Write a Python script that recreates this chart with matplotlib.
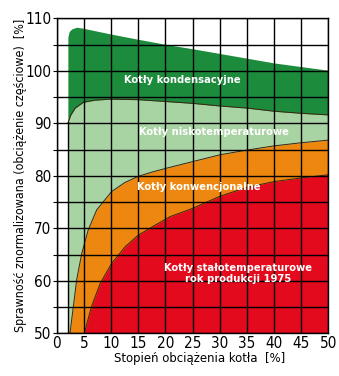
import numpy as np
import matplotlib
matplotlib.use('Agg')
import matplotlib.pyplot as plt
from matplotlib.ticker import MultipleLocator

plt.rcParams['font.family'] = ['DejaVu Sans']
plt.rcParams['font.stretch'] = 'condensed'

# ---------------------------------------------------------------------------
# Data (load % -> normalised efficiency %)
# ---------------------------------------------------------------------------
# top of the dark-green band (condensing boilers)
cond_x = [2.05, 2.05, 2.3, 2.8, 3.7, 4.9, 10.0, 15.0, 20.8, 25.0, 30.0, 35.0, 40.0, 45.0, 50.0]
cond_y = [90.0, 106.4, 107.5, 108.0, 108.3, 108.1, 107.0, 106.0, 104.9, 104.2, 103.3, 102.4, 101.5, 100.8, 100.1]

# top of the light-green band (low-temperature boilers)
low_x = [2.1, 2.6, 3.4, 4.9, 7.0, 9.8, 15.0, 20.8, 25.0, 30.0, 35.0, 40.0, 45.0, 50.0]
low_y = [90.2, 91.6, 92.9, 94.0, 94.4, 94.6, 94.5, 94.1, 93.8, 93.3, 92.9, 92.3, 91.9, 91.6]

# top of the orange band (conventional boilers)
conv_x = [2.44, 3.06, 3.67, 4.6, 5.8, 7.35, 10.1, 12.5, 15.0, 17.5, 20.0, 25.0, 30.0, 35.0, 40.0, 45.0, 50.0]
conv_y = [50.0, 55.1, 60.2, 65.2, 69.7, 73.5, 77.0, 78.7, 79.9, 80.7, 81.4, 82.7, 84.0, 84.9, 85.7, 86.3, 86.8]

# top of the red band (constant-temperature boilers, 1975)
const_x = [5.07, 6.4, 8.0, 10.1, 12.6, 15.0, 18.1, 20.8, 25.0, 30.0, 35.0, 40.0, 45.0, 50.0]
const_y = [50.0, 55.1, 59.5, 63.3, 66.5, 68.7, 70.6, 72.2, 73.8, 76.1, 77.8, 78.9, 79.6, 80.2]

bands = [
    (cond_x, cond_y, '#1d8b3c'),
    (low_x, low_y, '#a8d3a3'),
    (conv_x, conv_y, '#ee8710'),
    (const_x, const_y, '#e20a1c'),
]

# ---------------------------------------------------------------------------
# Figure
# ---------------------------------------------------------------------------
fig = plt.figure(figsize=(3.39, 3.76), dpi=100)
ax = fig.add_axes([0.1673, 0.1136, 0.8017, 0.8377])

for i, (bx, by, col) in enumerate(bands):
    ax.fill_between(bx, 50, by, color=col, linewidth=0, zorder=1 + i)
    if i > 0:
        ax.plot(bx, by, color='#3b2410', lw=0.7, zorder=1.5 + i)

# black left edge of the light-green band
ax.plot([low_x[0], low_x[0]], [50, low_y[0]], color='black', lw=1.0, zorder=6)

ax.set_xlim(0, 50)
ax.set_ylim(50, 110)
ax.xaxis.set_major_locator(MultipleLocator(5))
ax.yaxis.set_major_locator(MultipleLocator(10))
ax.yaxis.set_minor_locator(MultipleLocator(5))

for v in np.arange(0, 51, 5):
    ax.axvline(v, color='black', lw=1.0, zorder=7)
for v in np.arange(50, 111, 5):
    ax.axhline(v, color='black', lw=1.0, zorder=7)

for s in ax.spines.values():
    s.set_linewidth(1.0)
    s.set_zorder(8)

ax.tick_params(axis='x', length=0, labelsize=11, pad=2)
ax.tick_params(axis='y', which='both', length=3, width=0.8, labelsize=11, pad=1)

ax.set_xlabel('Stopień obciążenia kotła  [%]', fontsize=9.4)
ax.xaxis.set_label_coords(0.527, -0.058)
ax.set_ylabel('Sprawność znormalizowana (obciążenie częściowe)  [%]',
              fontsize=8.9)
ax.yaxis.set_label_coords(-0.108, 0.5)

txt = dict(color='white', fontweight='bold', fontsize=8.0, ha='center',
           va='center', zorder=9)
ax.text(23.1, 98.2, 'Kotły kondensacyjne', **txt)
ax.text(28.9, 88.4, 'Kotły niskotemperaturowe', **txt)
ax.text(26.2, 77.9, 'Kotły konwencjonalne', **txt)
ax.text(33.4, 61.4, 'Kotły stałotemperaturowe\nrok produkcji 1975',
        linespacing=1.2, **txt)

fig.savefig('out.png', dpi=100)
plt.close(fig)
